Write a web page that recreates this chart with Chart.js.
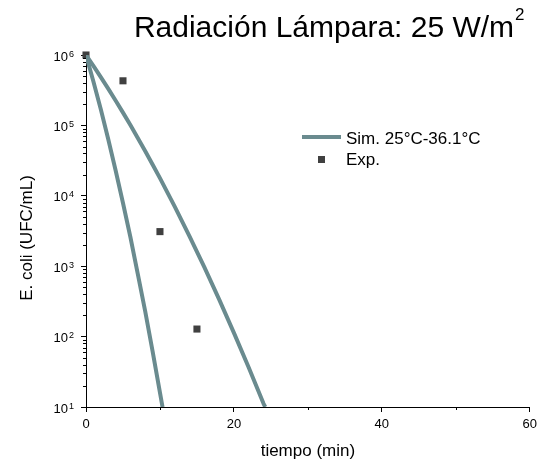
<!DOCTYPE html>
<html>
<head>
<meta charset="utf-8">
<script src="https://cdn.jsdelivr.net/npm/chart.js@4/dist/chart.umd.min.js"></script>
<style>
  html, body { margin: 0; padding: 0; background: #fff; }
  #wrap { width: 542px; height: 463px; }
</style>
</head>
<body>
<div id="wrap"><canvas id="c" width="542" height="463"></canvas></div>
<script>
// values
const simFastT = [0, 1, 2, 3, 4, 5, 6, 7, 8, 9, 10, 10.35];
const simFastY = [1e6, 4.2e5, 1.7e5, 6.4e4, 2.3e4, 7.9e3, 2.6e3, 780, 230, 62, 16, 10];
const simSlowT = [0, 1, 2, 3, 4, 5, 6, 7, 8, 9, 10, 11, 12, 14, 16, 18, 20, 22, 24, 24.23];
const simSlowY = [1e6, 7.0e5, 4.85e5, 3.33e5, 2.26e5, 1.52e5, 1.01e5, 6.64e4, 4.33e4, 2.79e4, 1.78e4, 1.12e4, 7.0e3, 2.66e3, 968, 338, 113, 36.4, 11.2, 10];
const expT = [0, 5, 10, 15];
const expY = [1e6, 4.3e5, 3.1e3, 128];
const xTicks = [0, 20, 40, 60];
const xMinorTicks = [10, 30, 50];
const yExponents = [1, 2, 3, 4, 5, 6];

const lineColor = '#6a8b8f';
const pointColor = '#404040';
const FONT = "'Liberation Sans', Arial, sans-serif";

const toPoints = (xs, ys) => xs.map((x, i) => ({ x, y: ys[i] }));

// title, y labels with exponents, minor ticks, legend
const extras = {
  id: 'extras',
  afterDraw(chart) {
    const ctx = chart.ctx;
    const xs = chart.scales.x, ys = chart.scales.y;
    const area = chart.chartArea;
    ctx.save();
    ctx.fillStyle = '#000';
    ctx.strokeStyle = '#000';

    // title
    ctx.font = '30px ' + FONT;
    ctx.textAlign = 'left';
    ctx.textBaseline = 'alphabetic';
    const main = 'Radiación Lámpara: 25 W/m';
    const w = ctx.measureText(main).width;
    const tx = 324 - w / 2;
    ctx.fillText(main, tx, 37);
    ctx.font = '17px ' + FONT;
    ctx.fillText('2', tx + w + 1, 20);

    // y tick labels 10^k
    yExponents.forEach(k => {
      const y = ys.getPixelForValue(Math.pow(10, k));
      ctx.font = '13px ' + FONT;
      ctx.textAlign = 'right';
      ctx.fillText('10', 68, y + 5.5);
      ctx.font = '9px ' + FONT;
      ctx.textAlign = 'left';
      ctx.fillText(String(k), 69, y + 1.5);
    });

    // minor ticks
    ctx.lineWidth = 1;
    ctx.beginPath();
    for (let k = 1; k < 6; k++) {
      for (let m = 2; m <= 9; m++) {
        const y = Math.round(ys.getPixelForValue(m * Math.pow(10, k))) + 0.5;
        ctx.moveTo(area.left - 3, y);
        ctx.lineTo(area.left, y);
      }
    }
    xMinorTicks.forEach(v => {
      const x = Math.round(xs.getPixelForValue(v)) + 0.5;
      ctx.moveTo(x, area.bottom);
      ctx.lineTo(x, area.bottom + 3);
    });
    ctx.stroke();

    // axis titles
    ctx.font = '17px ' + FONT;
    ctx.textAlign = 'center';
    ctx.textBaseline = 'middle';
    ctx.fillText('tiempo (min)', (area.left + area.right) / 2, 451);
    ctx.save();
    ctx.translate(27, 238);
    ctx.rotate(-Math.PI / 2);
    ctx.fillText('E. coli (UFC/mL)', 0, 0);
    ctx.restore();

    // legend
    ctx.strokeStyle = lineColor;
    ctx.lineWidth = 4;
    ctx.beginPath();
    ctx.moveTo(302, 137);
    ctx.lineTo(341, 137);
    ctx.stroke();
    ctx.fillStyle = pointColor;
    ctx.fillRect(318, 156, 7, 7);
    ctx.fillStyle = '#000';
    ctx.textAlign = 'left';
    ctx.textBaseline = 'alphabetic';
    ctx.fillText('Sim. 25°C-36.1°C', 346, 144);
    ctx.fillText('Exp.', 346, 165);
    ctx.restore();
  }
};

new Chart(document.getElementById('c').getContext('2d'), {
  type: 'scatter',
  data: {
    datasets: [
      {
        type: 'line',
        label: 'Sim. 25°C-36.1°C',
        data: toPoints(simFastT, simFastY),
        borderColor: lineColor,
        borderWidth: 4,
        pointRadius: 0,
        tension: 0,
        borderJoinStyle: 'round',
        clip: 0
      },
      {
        type: 'line',
        label: 'Sim. 25°C-36.1°C (b)',
        data: toPoints(simSlowT, simSlowY),
        borderColor: lineColor,
        borderWidth: 4,
        pointRadius: 0,
        tension: 0,
        borderJoinStyle: 'round',
        clip: 0
      },
      {
        label: 'Exp.',
        data: toPoints(expT, expY),
        pointStyle: 'rect',
        pointRadius: 5,
        backgroundColor: pointColor,
        borderWidth: 0,
        clip: false
      }
    ]
  },
  options: {
    responsive: false,
    animation: false,
    layout: { padding: { left: 0, top: 55, right: 9, bottom: 0 } },
    plugins: {
      legend: { display: false },
      title: { display: false },
      tooltip: { enabled: false }
    },
    scales: {
      x: {
        type: 'linear',
        min: 0,
        max: 60,
        afterFit: s => { s.height = 56; },
        afterBuildTicks: s => { s.ticks = xTicks.map(v => ({ value: v })); },
        border: { display: true, color: '#000', width: 1 },
        grid: { display: true, drawOnChartArea: false, drawTicks: true, tickLength: 5, color: '#000' },
        ticks: { color: '#000', font: { family: FONT, size: 13 }, padding: 5, maxRotation: 0 }
      },
      y: {
        type: 'logarithmic',
        min: 10,
        max: 1e6,
        afterFit: s => { s.width = 86; },
        afterBuildTicks: s => { s.ticks = yExponents.map(k => ({ value: Math.pow(10, k) })); },
        border: { display: true, color: '#000', width: 1 },
        grid: { display: true, drawOnChartArea: false, drawTicks: true, tickLength: 5, color: '#000' },
        ticks: { display: false }
      }
    }
  },
  plugins: [extras]
});
</script>
</body>
</html>
